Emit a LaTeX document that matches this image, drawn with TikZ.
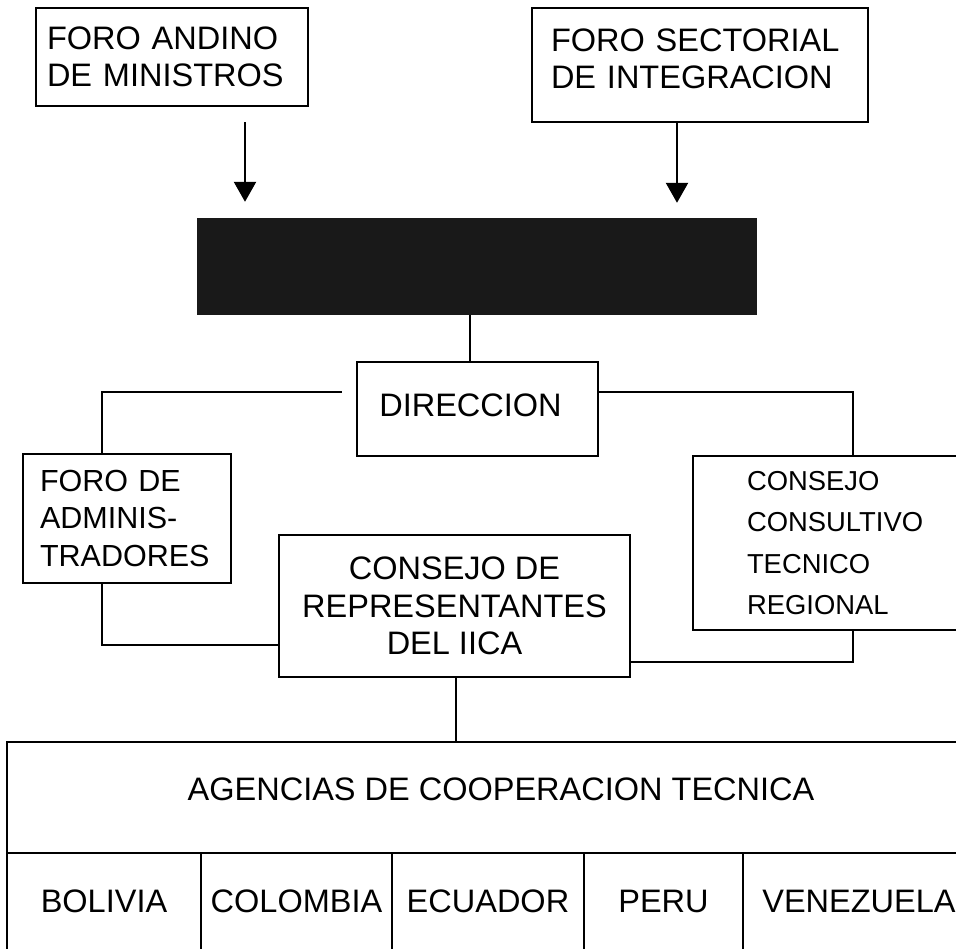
\documentclass[tikz,border=0pt]{standalone}
\usepackage{fontspec}
\setmainfont{Liberation Sans}
\usetikzlibrary{arrows.meta}
\begin{document}
\begin{tikzpicture}[x=1pt,y=-1pt,
  box/.style={draw, line width=2.9pt, inner sep=0pt, font=\fontsize{32.5}{37.5}\selectfont},
  cell/.style={box, minimum height=104pt, text height=23.3pt, text depth=8pt},
  conn/.style={line width=2.6pt},
  arr/.style={line width=2.4pt, -{Triangle[width=22pt,length=20pt]}},
]
\useasboundingbox (0,0) rectangle (956,949);
\fill[white] (0,0) rectangle (956,949);
\clip (0,0) rectangle (956,949);

\node[box, minimum width=272pt, minimum height=98pt, text width=250pt, align=left] (fam) at (172,57) {FORO ANDINO\\DE MINISTROS};
\node[box, minimum width=336pt, minimum height=114pt, text width=298pt, align=left, text depth=50pt] (fsi) at (700,65) {FORO SECTORIAL\\DE INTEGRACION};
\node[fill=black!90, minimum width=560pt, minimum height=97pt, inner sep=0pt] (dark) at (477,266.5) {};
\node[box, minimum width=241pt, minimum height=94pt, text height=23.3pt, text depth=8pt, text width=200pt, align=center] (dir) at (477.5,409) {\hspace*{-14pt}DIRECCION};
\node[box, minimum width=208pt, minimum height=129pt, text width=174pt, align=left, font=\fontsize{30.5}{37.5}\selectfont] (fda) at (127,518.5) {FORO DE\\ADMINIS-\\TRADORES};
\node[box, minimum width=351pt, minimum height=142pt, align=center] (cdr) at (454.5,606) {CONSEJO DE\\REPRESENTANTES\\DEL IICA};
\node[box, minimum width=307pt, minimum height=174pt, text width=199pt, align=left, font=\fontsize{27.4}{41.5}\selectfont] (cctr) at (846.5,543) {CONSEJO\\CONSULTIVO\\TECNICO\\REGIONAL};
\node[box, minimum width=988pt, minimum height=111pt, text height=23.3pt, text depth=17pt] (agen) at (501,797.5) {AGENCIAS DE COOPERACION TECNICA};
\node[cell, minimum width=194pt] (bol) at (104,905) {BOLIVIA};
\node[cell, minimum width=191pt] (col) at (296.5,905) {COLOMBIA};
\node[cell, minimum width=192pt] (ecu) at (488,905) {ECUADOR};
\node[cell, minimum width=159pt] (per) at (663.5,905) {PERU};
\node[cell, minimum width=232pt] (ven) at (859,905) {VENEZUELA};

\draw[arr, shorten <=15pt, shorten >=16pt] (245,0 |- fam.south) -- (245,0 |- dark.north);
\draw[arr, shorten >=15pt] (677,0 |- fsi.south) -- (677,0 |- dark.north);
\draw[conn] (470,0 |- dark.south) -- (470,0 |- dir.north);
\draw[conn, shorten <=14pt] (dir.west |- 0,392) -| (102,0 |- fda.north);
\draw[conn] (dir.east |- 0,392) -| (853,0 |- cctr.north);
\draw[conn] (102,0 |- fda.south) |- (cdr.west |- 0,645);
\draw[conn] (853,0 |- cctr.south) |- (cdr.east |- 0,662);
\draw[conn] (456,0 |- cdr.south) -- (456,0 |- agen.north);
\end{tikzpicture}
\end{document}
